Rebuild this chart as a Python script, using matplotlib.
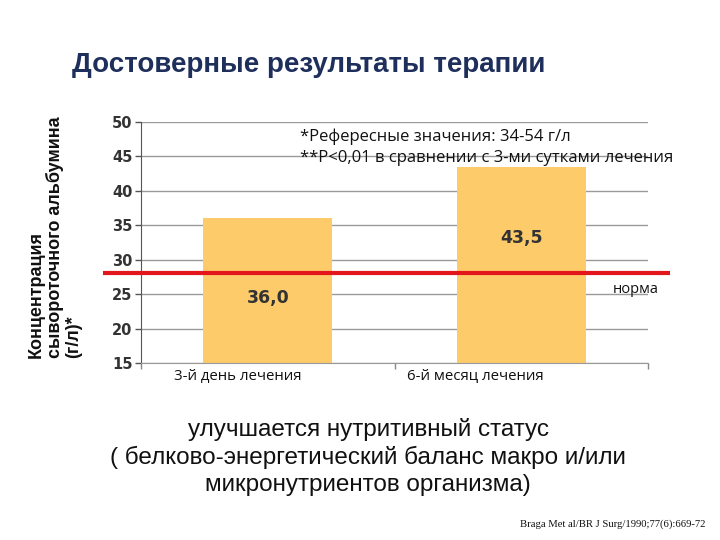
import matplotlib.pyplot as plt

categories = ["3-й день лечения", "6-й месяц лечения"]
values = [36.0, 43.5]
value_labels = ["36,0", "43,5"]
value_label_y = [24.4, 33.2]
norm_level = 28
yticks = [15, 20, 25, 30, 35, 40, 45, 50]

bar_color = "#FDCB69"
red = "#E3161B"
navy = "#1F2F5C"

fig = plt.figure(figsize=(7.2, 5.4), dpi=100)
fig.patch.set_facecolor("white")

ax = fig.add_axes([141 / 720, 1 - 363 / 540, 507 / 720, 241 / 540])

pos = [i + 0.5 for i in range(len(categories))]
ax.bar(pos, values, width=0.51, color=bar_color, zorder=2)
ax.set_xlim(0, 2)
ax.set_ylim(15, 50)
ax.set_yticks(yticks)
ax.set_yticklabels([str(t) for t in yticks], fontsize=10.5, fontweight="bold", color="#333333")
ax.yaxis.grid(True, color="#9a9a9a", linewidth=1, zorder=0)
ax.set_axisbelow(True)

ax.set_xticks([0, 1, 2])
ax.set_xticklabels([])
ax.tick_params(axis="x", length=4, color="#888888", width=1)
ax.tick_params(axis="y", length=4, color="#555555", width=1, pad=2)
for s in ["top", "right"]:
    ax.spines[s].set_visible(False)
ax.spines["left"].set_color("#555555")
ax.spines["bottom"].set_color("#999999")

for p, y, lab in zip(pos, value_label_y, value_labels):
    ax.text(p, y, lab, ha="center", va="center", fontsize=12.5,
            fontweight="bold", color="#333333", zorder=4)

# category labels sit a bit left of the bar centres
for p, off, c in zip(pos, [-0.12, -0.18], categories):
    ax.text(p + off, 14.2, c, ha="center", va="top", fontsize=10.8,
            family="Open Sans", color="#111111")

# norm line, runs past the axes on both sides
ax.plot([-0.075, 1.043], [norm_level, norm_level], transform=ax.get_yaxis_transform(),
        color=red, linewidth=3, clip_on=False, zorder=5, solid_capstyle="butt")
ax.text(0.93, norm_level - 1.2, "норма", transform=ax.get_yaxis_transform(),
        ha="left", va="top", fontsize=10.5, family="Open Sans", color="#111111")

fig.text(300 / 720, 1 - 137 / 540, "*Рефересные значения: 34-54 г/л",
         ha="left", va="center", fontsize=12, family="Open Sans", color="#111111")
fig.text(300 / 720, 1 - 158 / 540, "**P<0,01 в сравнении с 3-ми сутками лечения",
         ha="left", va="center", fontsize=12, family="Open Sans", color="#111111")

fig.text(72 / 720, 1 - 65 / 540, "Достоверные результаты терапии", ha="left", va="center",
         fontsize=20, fontweight="bold", family="Liberation Sans", color=navy)

fig.text(55 / 720, 1 - 358 / 540, "Концентрация\nсывороточного альбумина\n(г/л)*",
         rotation=90, ha="center", va="bottom", multialignment="left",
         fontsize=13, fontweight="bold", family="Liberation Sans", color="#111111",
         linespacing=1.1)

fig.text(368 / 720, 1 - 457 / 540,
         "улучшается нутритивный статус\n( белково-энергетический баланс макро и/или\nмикронутриентов организма)",
         ha="center", va="center", fontsize=17.5, family="Liberation Sans", color="#111111",
         linespacing=1.27)

fig.text(613 / 720, 1 - 524 / 540, "Braga Met al/BR J Surg/1990;77(6):669-72", ha="center", va="center",
         fontsize=7.7, family="Liberation Serif", color="#111111")

fig.savefig("out.png", dpi=100)
